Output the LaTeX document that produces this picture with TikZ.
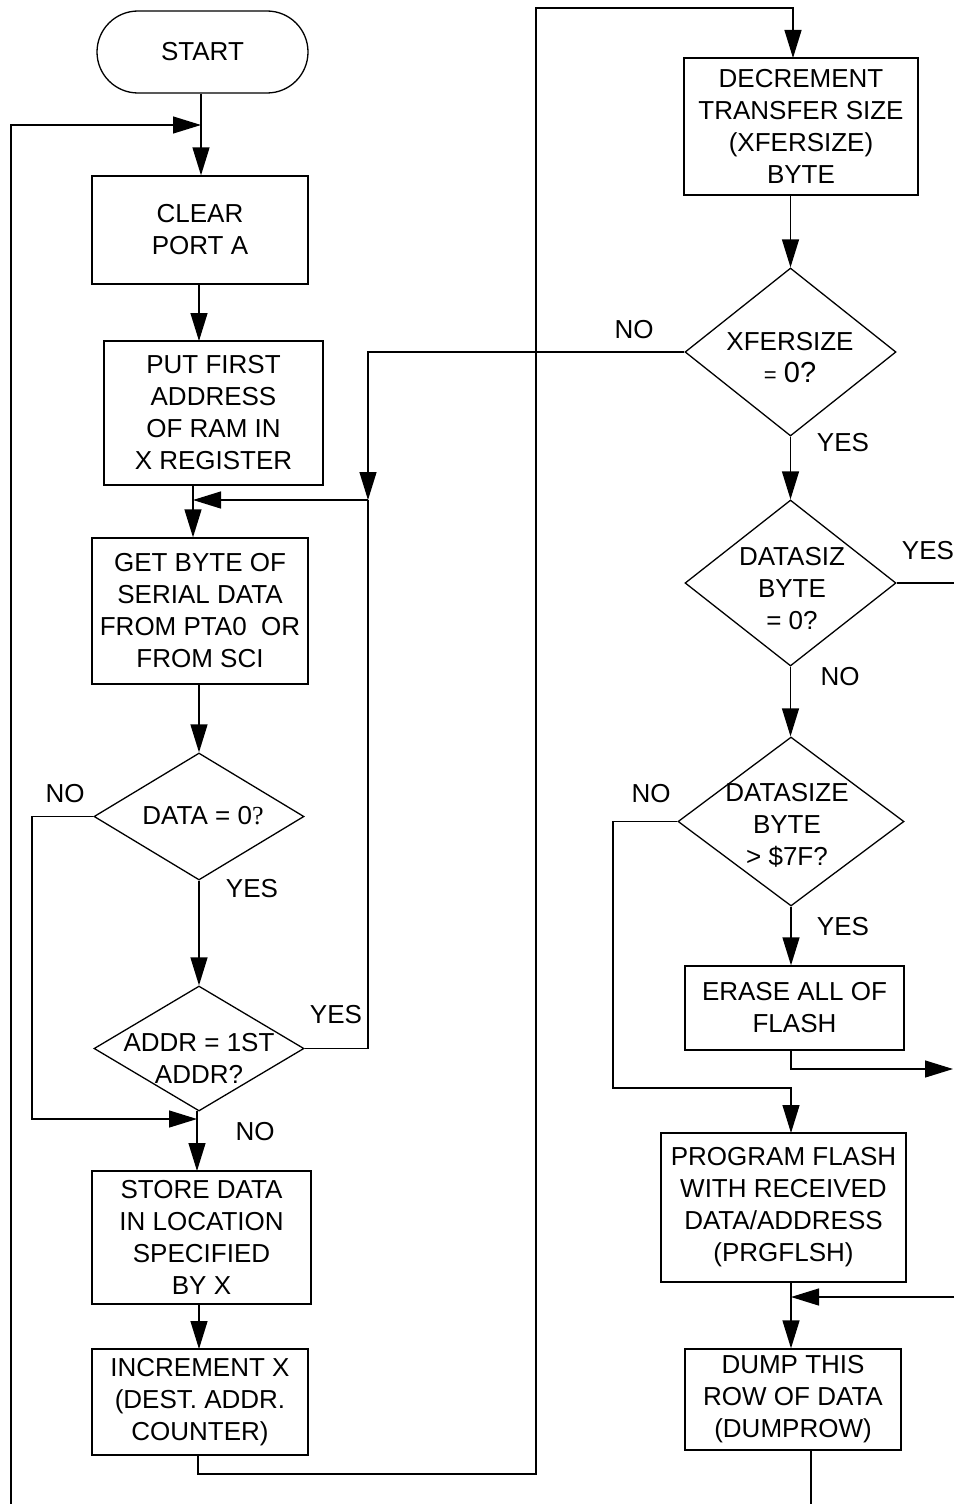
\documentclass[tikz,border=0pt]{standalone}
\usepackage{fontspec}
\setmainfont{Liberation Sans}
\newfontfamily\seriffont{Liberation Serif}
\usetikzlibrary{arrows.meta,shapes.geometric}
\begin{document}
\begin{tikzpicture}[x=1pt,y=-1pt,
  every node/.style={font=\fontsize{26}{32}\selectfont},
  proc/.style={draw,line width=1.3pt,rectangle,align=center,inner sep=2pt},
  term/.style={draw,line width=1.3pt,rectangle,rounded corners=41pt,minimum width=211pt,minimum height=82pt},
  dec/.style={draw,line width=1.3pt,diamond,inner sep=0pt},
  txt/.style={align=center,inner sep=0pt},
  lbl/.style={inner sep=0pt},
  conn/.style={line width=1.3pt},
  arr/.style={line width=1.3pt,-{Triangle[length=28pt,width=17pt]}}]
\useasboundingbox (0,0) rectangle (954,1504);

% nodes
\node[term] (start) at (202.5,52) {START};
\node[proc,minimum width=216pt,minimum height=108pt] (clear) at (200,230) {CLEAR\\PORT A};
\node[proc,minimum width=219pt,minimum height=144pt] (put) at (213.5,413) {PUT FIRST\\ADDRESS\\OF RAM IN\\X REGISTER};
\node[proc,minimum width=216pt,minimum height=146pt] (get) at (200,611) {GET BYTE OF\\SERIAL DATA\\FROM PTA0\ \ OR\\FROM SCI};
\node[dec,minimum width=210pt,minimum height=127pt] (d1) at (199,816.5) {};
\node[txt] (d1t) at (203,816) {DATA = 0{\seriffont ?}};
\node[dec,minimum width=210pt,minimum height=125pt] (d2) at (199,1048.5) {};
\node[txt] (d2t) at (199,1058) {ADDR = 1ST\\ADDR?};
\node[proc,minimum width=219pt,minimum height=133pt] (store) at (201.5,1237.5) {STORE DATA\\IN LOCATION\\SPECIFIED\\BY X};
\node[proc,minimum width=216pt,minimum height=106pt] (incr) at (200,1402) {INCREMENT X\\(DEST. ADDR.\\COUNTER)};

\node[proc,minimum width=234pt,minimum height=137pt] (decr) at (801,126.5) {DECREMENT\\TRANSFER SIZE\\(XFERSIZE)\\BYTE};
\node[dec,minimum width=211pt,minimum height=168pt] (d3) at (790.5,352) {};
\node[txt] (d3t) at (790,358) {XFERSIZE\\{\fontsize{22}{32}\selectfont =} {\fontsize{29}{32}\selectfont 0?}};
\node[dec,minimum width=211pt,minimum height=166pt] (d4) at (790.5,583) {};
\node[txt] (d4t) at (792,589) {DATASIZ\\BYTE\\= 0?};
\node[dec,minimum width=226pt,minimum height=169pt] (d5) at (791,821.5) {};
\node[txt] (d5t) at (787,825) {DATASIZE\\BYTE\\> \$7F?};
\node[proc,minimum width=219pt,minimum height=84pt] (erase) at (794.5,1008) {ERASE ALL OF\\FLASH};
\node[proc,minimum width=245pt,minimum height=149pt] (prog) at (783.5,1207.5) {PROGRAM FLASH\\WITH RECEIVED\\DATA/ADDRESS\\(PRGFLSH)};
\node[proc,minimum width=216pt,minimum height=101pt] (dump) at (793,1399.5) {DUMP THIS\\ROW OF DATA\\(DUMPROW)};

% labels
\node[lbl] (l1) at (65,794) {NO};
\node[lbl] (l2) at (252,889) {YES};
\node[lbl] (l3) at (336,1015) {YES};
\node[lbl] (l4) at (255,1132) {NO};
\node[lbl] (l5) at (634,330) {NO};
\node[lbl] (l6) at (843,443) {YES};
\node[lbl] (l7) at (928,551) {YES};
\node[lbl] (l8) at (840,677) {NO};
\node[lbl] (l9) at (651,794) {NO};
\node[lbl] (l10) at (843,927) {YES};

% junction coordinates
\coordinate (m0) at (201,125);
\coordinate (m1) at (193,500);
\coordinate (m3) at (368,500);
\coordinate (m2) at (197,1119);
\coordinate (m4) at (791,1297);
\coordinate (loopbot) at (11,1504);
\coordinate (e1) at (954,583);
\coordinate (e2) at (953,1069);
\coordinate (e3) at (954,1297);
\coordinate (e4) at (811,1504);

% connectors
\draw[arr] (start.south -| m0) -- (m0 |- clear.north);
\draw[arr] (loopbot) -- (11,125) -- (m0);
\draw[arr] (199,284) -- (199,341);
\draw[arr] (put.south -| m1) -- (get.north -| m1);
\draw[arr] (m3) -- (m1);
\draw[arr] (d1.north |- get.south) -- (d1.north);
\draw[arr] (d1.south) -- (d2.north);
\draw[arr] (d1.west) -- (32,816.5) -- (32,1119) -- (m2);
\draw[arr] (197,1111) -- (197,1171);
\draw[arr] (199,1304) -- (199,1349);
\draw[arr] (incr.south -| 198,0) -- (198,1474) -- (536,1474) -- (536,8) -- (793,8) -- (793,58);
\draw[arr] (decr.south -| d3.north) -- (d3.north);
\draw[arr] (d3.west) -- (368,352) -- (m3);
\draw[conn] (d2.east) -- (368,1048.5) -- (m3);
\draw[arr] (d3.south) -- (d4.north);
\draw[conn] (d4.east) -- (e1);
\draw[arr] (d4.south) -- (d4.south |- d5.north);
\draw[arr] (d5.west) -- (613,821.5) -- (613,1088) -- (791,1088) -- (791,1133);
\draw[arr] (d5.south) -- (d5.south |- erase.north);
\draw[arr] (791,1050) -- (791,1069) -- (e2);
\draw[arr] (prog.south -| m4) -- (dump.north -| m4);
\draw[arr] (e3) -- (m4);
\draw[conn] (dump.south -| e4) -- (e4);
\end{tikzpicture}
\end{document}
